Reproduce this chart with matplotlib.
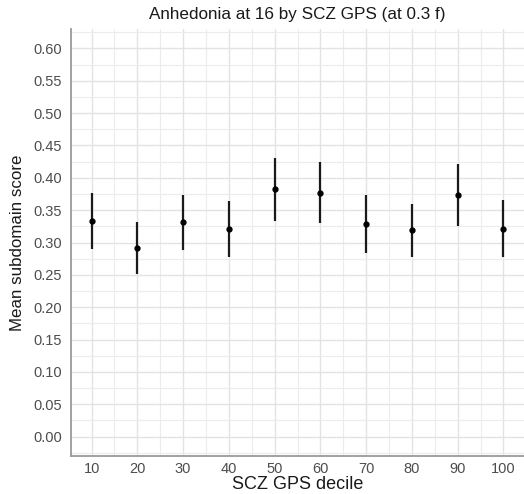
import numpy as np
import matplotlib
matplotlib.use("Agg")
from matplotlib import pyplot as plt
from matplotlib.ticker import MultipleLocator

plt.rcParams['font.family'] = ['Liberation Sans', 'DejaVu Sans']

deciles = [10, 20, 30, 40, 50, 60, 70, 80, 90, 100]
mean_score = [0.334, 0.291, 0.331, 0.321, 0.382, 0.377, 0.329, 0.319, 0.374, 0.321]
lower_ci = [0.290, 0.251, 0.288, 0.278, 0.333, 0.330, 0.283, 0.278, 0.325, 0.277]
upper_ci = [0.377, 0.331, 0.374, 0.364, 0.431, 0.424, 0.374, 0.360, 0.422, 0.366]

y_ticks = np.arange(0, 0.61, 0.05)

W, H = 524, 494
fig = plt.figure(figsize=(W / 100, H / 100), dpi=100)
ax = fig.add_axes([71 / W, 1 - 456 / H, (524 - 71) / W, (456 - 29) / H])

x = np.array(deciles)
m = np.array(mean_score)
lo = np.array(lower_ci)
hi = np.array(upper_ci)

ax.vlines(x, lo, hi, color='#1a1a1a', lw=1.6, zorder=3)
ax.plot(x, m, 'o', color='black', ms=3.5, zorder=4)

ax.set_xlim(5.5, 104.5)
ax.set_ylim(-0.03, 0.63)
ax.set_xticks(deciles)
ax.set_yticks(y_ticks)
ax.set_yticklabels([f'{v:.2f}' for v in y_ticks])
ax.xaxis.set_minor_locator(MultipleLocator(5))
ax.yaxis.set_minor_locator(MultipleLocator(0.025))

ax.grid(which='major', color='#e3e3e3', lw=1.0, zorder=0)
ax.grid(which='minor', color='#ececec', lw=0.8, zorder=0)
ax.set_axisbelow(True)

for side in ['top', 'right']:
    ax.spines[side].set_visible(False)
for side in ['left', 'bottom']:
    ax.spines[side].set_color('#9a9a9a')
    ax.spines[side].set_linewidth(1.3)

ax.tick_params(which='both', length=0, labelsize=10.5, labelcolor='#4d4d4d')
ax.tick_params(axis='y', pad=6.5)
ax.tick_params(axis='x', pad=4)

ax.set_xlabel('SCZ GPS decile', fontsize=13, color='#1a1a1a', labelpad=0)
ax.set_ylabel('Mean subdomain score', fontsize=12.2, color='#1a1a1a', labelpad=6)

fig.text((71 + 524) / 2 / W, 1 - 14 / H, 'Anhedonia at 16 by SCZ GPS (at 0.3 f)',
         ha='center', va='center', fontsize=12.3, color='#1a1a1a')

fig.savefig('out.png', dpi=100)
